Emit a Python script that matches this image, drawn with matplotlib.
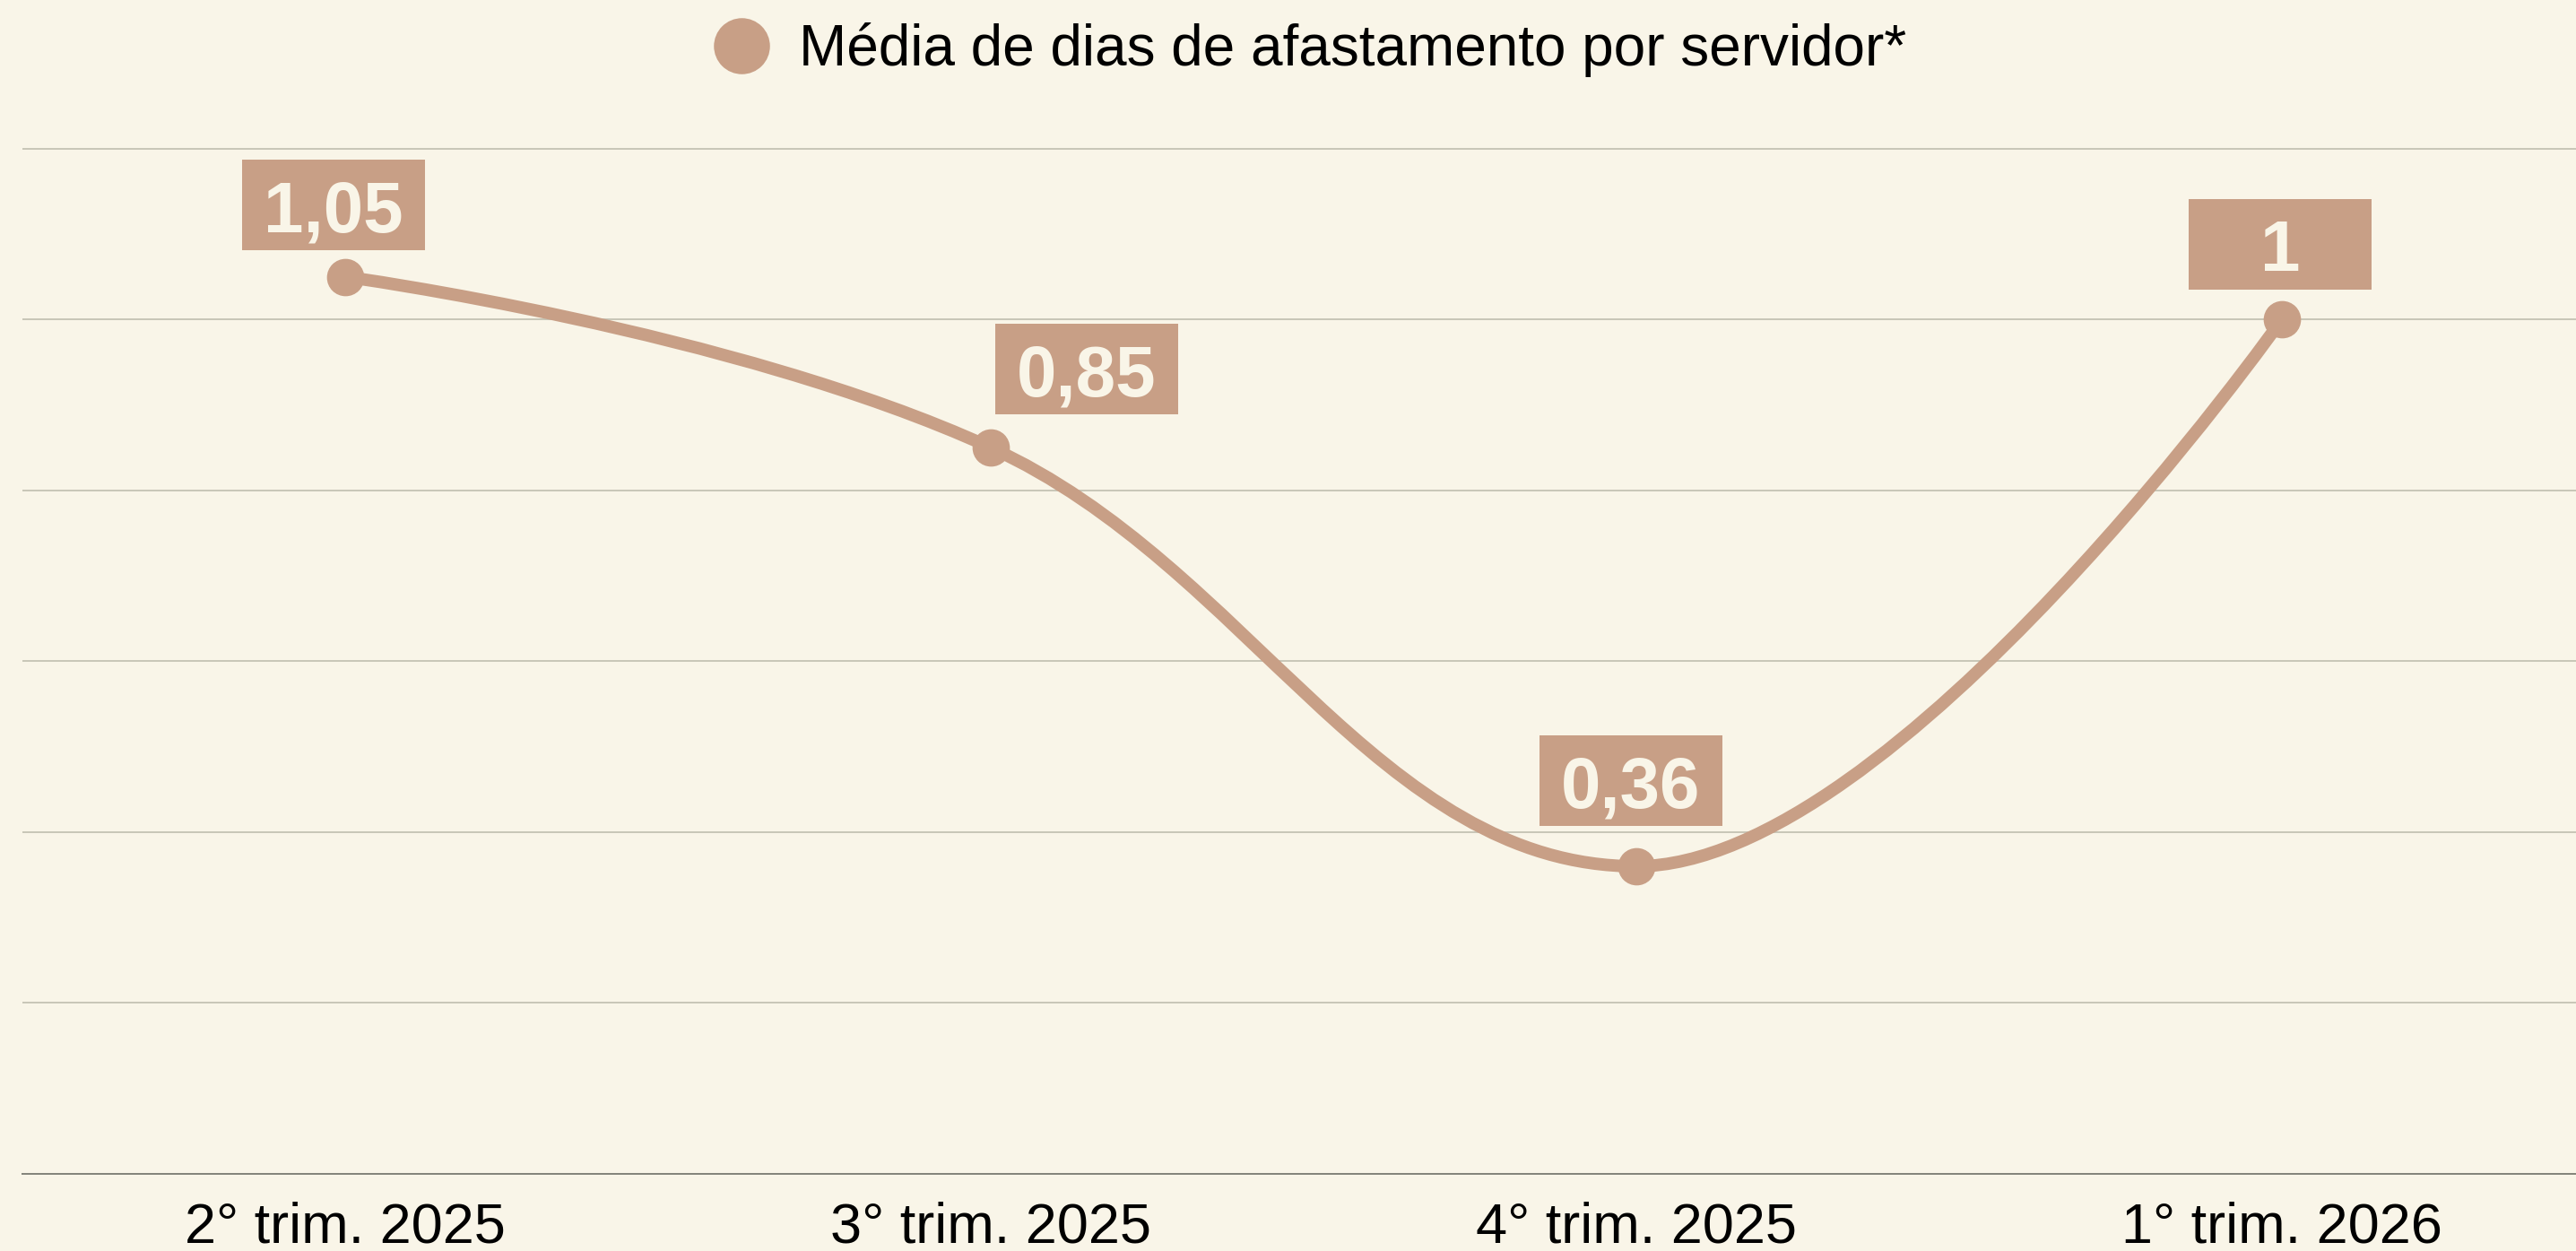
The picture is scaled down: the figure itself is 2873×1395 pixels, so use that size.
import matplotlib
matplotlib.use("Agg")
import matplotlib.pyplot as plt
import matplotlib.transforms as mtransforms
from matplotlib.path import Path
from matplotlib.patches import PathPatch, Rectangle
from matplotlib.lines import Line2D

plt.rcParams['font.family'] = ['Liberation Sans', 'DejaVu Sans']

quarters = ["2° trim. 2025", "3° trim. 2025", "4° trim. 2025", "1° trim. 2026"]
avg_days = [1.05, 0.85, 0.36, 1.0]
value_labels = ["1,05", "0,85", "0,36", "1"]
series_name = "Média de dias de afastamento por servidor*"

# where each value box sits, in pixels from its point (right, up)
label_offsets = [(-13, 80), (107, 88), (-6, 95), (-2, 84)]

BG = "#F9F5E8"
TAN = "#C89F86"
GRID = "#C9C7B8"
BASE = "#85857C"

W, H = 2873, 1395


def spline_path(xs, ys, smoothing=1.5):
    # cubic bezier through every point, same rule as a Highcharts "spline"
    n = len(xs)
    left = [None] * n
    right = [None] * n
    denom = smoothing + 1
    for i in range(1, n - 1):
        x, y = xs[i], ys[i]
        lx, ly = xs[i - 1], ys[i - 1]
        nx, ny = xs[i + 1], ys[i + 1]
        lcx = (smoothing * x + lx) / denom
        lcy = (smoothing * y + ly) / denom
        rcx = (smoothing * x + nx) / denom
        rcy = (smoothing * y + ny) / denom
        corr = (rcy - lcy) * (rcx - x) / (rcx - lcx) + y - rcy
        lcy += corr
        rcy += corr
        if lcy > ly and lcy > y:
            lcy = max(ly, y)
            rcy = 2 * y - lcy
        elif lcy < ly and lcy < y:
            lcy = min(ly, y)
            rcy = 2 * y - lcy
        if rcy > ny and rcy > y:
            rcy = max(ny, y)
            lcy = 2 * y - rcy
        elif rcy < ny and rcy < y:
            rcy = min(ny, y)
            lcy = 2 * y - rcy
        left[i] = (lcx, lcy)
        right[i] = (rcx, rcy)
    verts = [(xs[0], ys[0])]
    codes = [Path.MOVETO]
    for i in range(1, n):
        c1 = right[i - 1] or (xs[i - 1], ys[i - 1])
        c2 = left[i] or (xs[i], ys[i])
        verts += [c1, c2, (xs[i], ys[i])]
        codes += [Path.CURVE4] * 3
    return Path(verts, codes)


fig = plt.figure(figsize=(W / 100, H / 100), dpi=100, facecolor=BG)
ax = fig.add_axes([25 / W, 86 / H, 2880 / W, 1191 / H])
ax.set_facecolor(BG)

xs = list(range(len(quarters)))
ax.add_patch(PathPatch(spline_path(xs, avg_days), facecolor='none',
                       edgecolor=TAN, lw=10, capstyle='round', zorder=3))
ax.plot(xs, avg_days, 'o', color=TAN, markersize=29, zorder=4)

# value boxes
box_w, box_h = 204, 101
for xi, yi, lbl, (dx, dy) in zip(xs, avg_days, value_labels, label_offsets):
    tr = mtransforms.ScaledTranslation(xi, yi, ax.transData)
    ax.add_patch(Rectangle((dx - box_w / 2, dy - box_h / 2), box_w, box_h,
                           transform=tr, facecolor=TAN, edgecolor='none',
                           clip_on=False, zorder=5))
    ax.annotate(lbl, (xi, yi), xytext=(dx, dy - 30), textcoords='offset pixels',
                ha='center', va='baseline', fontsize=57.6, fontweight='bold',
                color=BG, zorder=6, annotation_clip=False)

ax.set_xlim(-0.5, 3.5)
ax.set_ylim(0, 1.25)
ax.set_xticks(xs, quarters)
ax.set_yticks([0, 0.2, 0.4, 0.6, 0.8, 1.0, 1.2])
ax.tick_params(axis='x', length=0, pad=22, labelsize=45.4, colors='black')
ax.tick_params(axis='y', length=0, labelleft=False)
ax.grid(axis='y', color=GRID, lw=1.44)
ax.set_axisbelow(True)
for side in ['top', 'left', 'right']:
    ax.spines[side].set_visible(False)
ax.spines['bottom'].set_color(BASE)
ax.spines['bottom'].set_linewidth(1.44)

handle = Line2D([], [], marker='o', ls='none', color=TAN, markersize=44)
fig.legend([handle], [series_name], loc='center',
           bbox_to_anchor=(1461 / W, 1 - 56 / H), frameon=False,
           fontsize=46, handlelength=1.0, handletextpad=0.5,
           borderpad=0, borderaxespad=0)

fig.savefig("out.png", dpi=100, facecolor=BG)
